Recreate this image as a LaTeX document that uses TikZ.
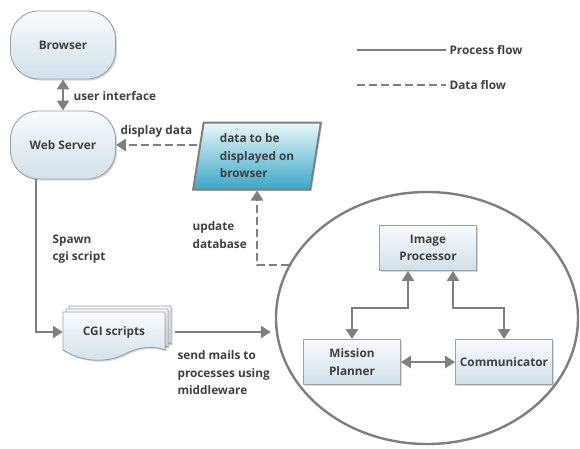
\documentclass[tikz,border=0pt]{standalone}
\usepackage{fontspec}
\setmainfont{Open Sans}
\usetikzlibrary{arrows.meta,shapes.geometric,shadows}
\definecolor{flowgray}{HTML}{7F7F7F}
\definecolor{txtgray}{HTML}{404040}
\definecolor{boxtop}{HTML}{F8FBFD}
\definecolor{boxbot}{HTML}{D2E0EB}
\definecolor{datatop}{HTML}{EAF7FB}
\definecolor{databot}{HTML}{3AA7C5}

\begin{document}
\begin{tikzpicture}[x=1pt, y=-1pt, every node/.style={font=\bfseries\fontsize{11.8}{17.5}\selectfont, text=txtgray},
  box/.style={draw=gray!75, line width=0.9pt, top color=boxtop, bottom color=boxbot, drop shadow={shadow xshift=1.5pt, shadow yshift=-1.5pt, opacity=0.3}},
  term/.style={box, rounded corners=28pt, minimum width=105pt, minimum height=68pt},
  proc/.style={box, rectangle, minimum width=97pt, minimum height=45pt, align=center, inner sep=1pt},
  flow/.style={draw=flowgray, line width=2.8pt, -{Triangle[length=10pt,width=12pt]}},
  biflow/.style={flow, {Triangle[length=10pt,width=12pt]}-{Triangle[length=10pt,width=12pt]}},
  data/.style={flow, dash pattern=on 8pt off 4pt},
  lbl/.style={anchor=west, align=left}]
	\useasboundingbox (0,0) rectangle (580,448);
	\node[term] (browser) at (63,45) {Browser};
	\node[term] (web) at (63,145) {Web Server};
	\node[trapezium, trapezium left angle=81, trapezium right angle=99, trapezium stretches=true, minimum width=129pt, minimum height=67pt, draw=gray, line width=2pt, top color=datatop, bottom color=databot, align=left, drop shadow={shadow xshift=1.5pt, shadow yshift=-1.5pt, opacity=0.3}] (store) at (257,156) {data to be\\displayed on\\browser};
	\node[ellipse, draw=flowgray, line width=2.4pt, fill=white, minimum width=302pt, minimum height=252pt, drop shadow={shadow xshift=1pt, shadow yshift=-1pt, opacity=0.2}] (core) at (427,318) {};
	\node[proc] (img) at (428,248) {Image\\Processor};
	\node[proc] (mp) at (352,362) {Mission\\Planner};
	\node[proc] (com) at (504,362) {Communicator};
	\foreach \d in {6,3,0}
		\draw[box, shift={(\d,-\d)}] (63,312) -- (63,350) .. controls (85,364) and (110,362) .. (125,354) .. controls (140,346) and (155,346) .. (165,350) -- (165,312) -- cycle;
	\node[minimum width=102pt, minimum height=40pt] (cgi) at (114,332) {CGI scripts};
	\node[lbl] (ui) at (70,96) {user interface};
	\node[lbl] (dd) at (117,131) {display data};
	\node[lbl] (upd) at (189,235) {update\\database};
	\node[lbl] (spawn) at (49,249) {Spawn\\cgi script};
	\node[lbl] (mail) at (174,373) {send mails to\\processes using\\middleware};
	\node[lbl] (pf) at (446,50) {Process flow};
	\node[lbl] (df) at (446,85) {Data flow};
	\coordinate (p1) at (357,50);
	\coordinate (d1) at (357,85);
	\draw[draw=flowgray, line width=2.6pt] (p1) -- (pf.west);
	\draw[draw=flowgray, line width=2.6pt, dash pattern=on 8pt off 4pt] (d1) -- (df.west);
	\draw[biflow] (browser) -- (web);
	\draw[data] (store.west |- web.east) -- (web.east);
	\draw[data] (core.159) -| (store.south);
	\draw[flow] ([xshift=-27pt]web.south) |- (cgi.west);
	\draw[flow, shorten >=4pt] ([xshift=10pt]cgi.east) -- (core.west |- cgi.east);
	\draw[biflow] ([xshift=-20pt]img.south) -- ++(0,37) -| (mp.north);
	\draw[biflow] ([xshift=25pt]img.south) -- ++(0,37) -| (com.north);
	\draw[biflow] (mp) -- (com);
\end{tikzpicture}
\end{document}
